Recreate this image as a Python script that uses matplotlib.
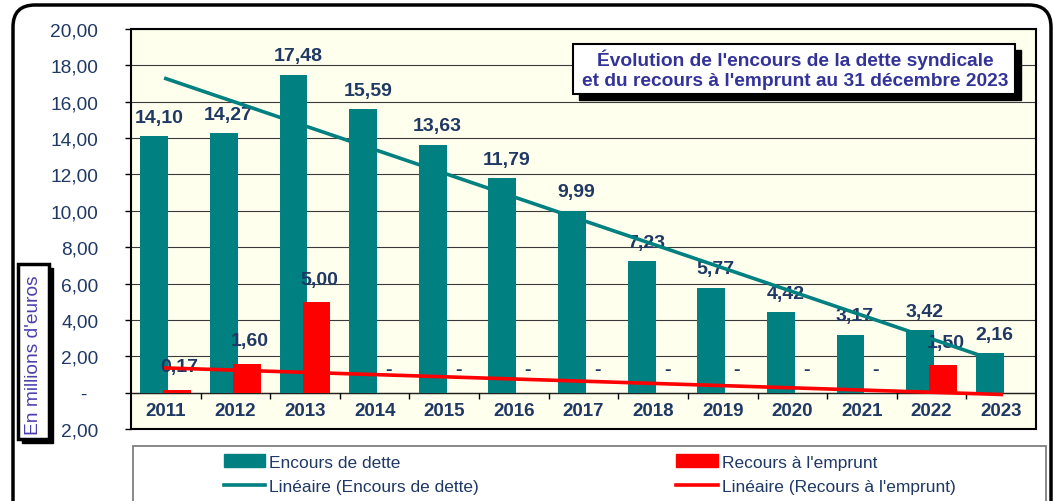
import matplotlib.pyplot as plt
import numpy as np
from matplotlib.patches import Rectangle, FancyBboxPatch, Patch
from matplotlib.lines import Line2D
from matplotlib.ticker import FuncFormatter

plt.rcParams['font.family'] = ['Liberation Sans', 'DejaVu Sans']

years = ['2011', '2012', '2013', '2014', '2015', '2016', '2017',
         '2018', '2019', '2020', '2021', '2022', '2023']
encours = [14.10, 14.27, 17.48, 15.59, 13.63, 11.79, 9.99,
           7.23, 5.77, 4.42, 3.17, 3.42, 2.16]
recours = [0.17, 1.60, 5.00, 0, 0, 0, 0, 0, 0, 0, 0, 1.50, np.nan]

TEAL = '#008080'
RED = '#FF0000'
NAVY = '#1F3864'
W, H = 1054, 502


def fr(v):
    return f"{v:.2f}".replace('.', ',')


def yfmt(v, pos):
    if abs(v) < 1e-9:
        return '-  '
    return fr(abs(v))


def px_box(x0, y0, x1, y1):
    # pixel box (top-left origin) -> figure fraction rect
    return (x0 / W, 1 - y1 / H), (x1 - x0) / W, (y1 - y0) / H


fig = plt.figure(figsize=(W / 100, H / 100), dpi=100)
fig.patch.set_facecolor('white')

ax = fig.add_axes([131 / W, 1 - 430 / H, (1036 - 131) / W, 400 / H])
ax.set_facecolor('#FFFFEE')
x = np.arange(len(years))
enc = np.array(encours)
rec = np.array(recours)

ax.set_xlim(-0.5, len(years) - 0.5)
ax.set_ylim(-2, 20)
ax.set_yticks(np.arange(-2, 21, 2))
ax.yaxis.set_major_formatter(FuncFormatter(yfmt))
ax.set_xticks([])
ax.grid(axis='y', color='#3a3a3a', lw=0.8)
ax.set_axisbelow(True)
ax.tick_params(axis='y', direction='out', length=4.5, width=1, pad=19,
               labelsize=13.8, labelcolor=NAVY)
for s in ax.spines.values():
    s.set_linewidth(1.5)

ax.axhline(0, color='#222222', lw=1, zorder=1)
ax.vlines(x[:-1] + 0.5, -0.33, 0, color='black', lw=1, zorder=1)

ax.bar(x - 0.165, enc, 0.40, color=TEAL, zorder=2)
ax.bar(x + 0.165, rec, 0.40, color=RED, zorder=2.2)

# linear trend lines
t_enc = np.polyval(np.polyfit(x, enc, 1), x)
m = ~np.isnan(rec)
t_rec = np.polyval(np.polyfit(x[m], rec[m], 1), x)
ax.plot(x, t_enc, color=TEAL, lw=2.6, zorder=3)
ax.plot(x, t_rec, color=RED, lw=2.6, zorder=3)

for xi, v in zip(x, enc):
    ax.text(xi - 0.1, v + 1.05, fr(v), ha='center', va='center', fontsize=14,
            fontweight='bold', color=NAVY, zorder=2.7)
for xi, v in zip(x, rec):
    if np.isnan(v):
        continue
    lab = '-' if v == 0 else fr(v)
    ax.text(xi + 0.2, v + 1.25, lab, ha='center', va='center', fontsize=14,
            fontweight='bold', color=NAVY, zorder=2.7)

for xi, yr in zip(x, years):
    ax.text(xi, -1.0, yr, ha='center', va='center', fontsize=13.5,
            fontweight='bold', color=NAVY)

# outer rounded frame
fig.add_artist(FancyBboxPatch((0.13, -0.3), 10.38, 5.26,
                              boxstyle="round,pad=0,rounding_size=0.22",
                              transform=fig.dpi_scale_trans, fc='none',
                              ec='black', lw=2.5))

# title box with shadow
xy, w, h = px_box(579, 51, 1021, 101)
fig.add_artist(Rectangle(xy, w, h, transform=fig.transFigure, fc='black', ec='black', zorder=5))
xy, w, h = px_box(573, 45, 1015, 95)
fig.add_artist(Rectangle(xy, w, h, transform=fig.transFigure, fc='white', ec='black', lw=1.5, zorder=5.1))
fig.text(795 / W, 1 - 70 / H,
         "Évolution de l'encours de la dette syndicale\net du recours à l'emprunt au 31 décembre 2023",
         ha='center', va='center', fontsize=13.8, fontweight='bold',
         color='#333399', linespacing=1.22, zorder=6)

# y label box with shadow
xy, w, h = px_box(22, 269, 53, 444)
fig.add_artist(Rectangle(xy, w, h, transform=fig.transFigure, fc='black', ec='black', zorder=5))
xy, w, h = px_box(18, 265, 49, 440)
fig.add_artist(Rectangle(xy, w, h, transform=fig.transFigure, fc='white', ec='black', lw=2.5, zorder=5.1))
fig.text(34 / W, 1 - 355 / H, "En millions d'euros", rotation=90,
         ha='center', va='center', fontsize=13.8, color='#4B3FAE', zorder=6)

# legend
xy, w, h = px_box(133, 447, 1046, 515)
fig.add_artist(Rectangle(xy, w, h, transform=fig.transFigure, fc='white', ec='#7f7f7f', lw=1.3, zorder=4))
handles = [Patch(color=TEAL), Line2D([], [], color=TEAL, lw=2.6),
           Patch(color=RED), Line2D([], [], color=RED, lw=2.6)]
labels = ['Encours de dette', 'Linéaire (Encours de dette)',
          "Recours à l'emprunt", "Linéaire (Recours à l'emprunt)"]
fig.legend(handles, labels, ncol=2, loc='center',
           bbox_to_anchor=(589.5 / W, 1 - 475 / H), frameon=False,
           fontsize=12.5, labelcolor=NAVY, handlelength=2.4, handleheight=0.75,
           handletextpad=0.2, columnspacing=11.4, labelspacing=0.5)

fig.savefig('out.png', dpi=100)
